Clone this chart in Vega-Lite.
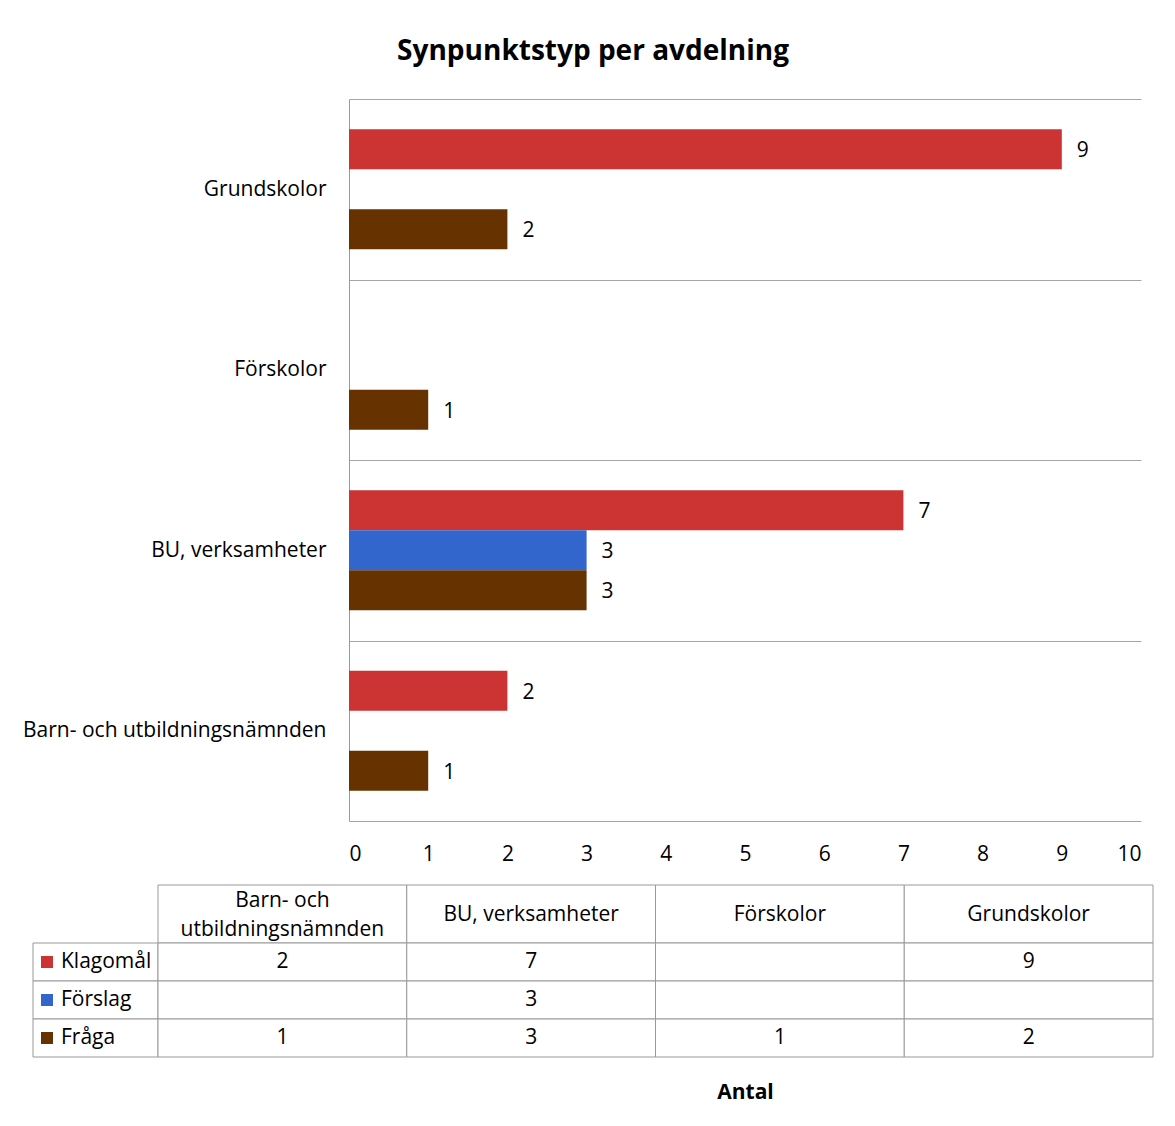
{
  "$schema": "https://vega.github.io/schema/vega-lite/v6.json",
  "padding": {"left": 22, "top": 38, "right": 20, "bottom": 20},
  "config": {"view": {"stroke": null}, "font": "Open Sans", "text": {"font": "Open Sans"}},
  "title": {"text": "Synpunktstyp per avdelning", "fontSize": 28, "fontWeight": "bold", "font": "Open Sans", "color": "#000", "anchor": "middle", "offset": 22, "dx": 5},
  "datasets": {
    "t": [
      {"avd": "Barn- och utbildningsnämnden", "typ": "Klagomål", "antal": 2},
      {"avd": "Barn- och utbildningsnämnden", "typ": "Förslag", "antal": null},
      {"avd": "Barn- och utbildningsnämnden", "typ": "Fråga", "antal": 1},
      {"avd": "BU, verksamheter", "typ": "Klagomål", "antal": 7},
      {"avd": "BU, verksamheter", "typ": "Förslag", "antal": 3},
      {"avd": "BU, verksamheter", "typ": "Fråga", "antal": 3},
      {"avd": "Förskolor", "typ": "Klagomål", "antal": null},
      {"avd": "Förskolor", "typ": "Förslag", "antal": null},
      {"avd": "Förskolor", "typ": "Fråga", "antal": 1},
      {"avd": "Grundskolor", "typ": "Klagomål", "antal": 9},
      {"avd": "Grundskolor", "typ": "Förslag", "antal": null},
      {"avd": "Grundskolor", "typ": "Fråga", "antal": 2}
    ]
  },
  "spacing": 20,
  "vconcat": [
    {
      "spacing": 0,
      "bounds": "flush",
      "hconcat": [
        {
          "width": 316, "height": 722,
          "data": {"values": [{}]},
          "mark": {"type": "text"},
          "encoding": {"text": {"value": ""}}
        },
        {
          "width": 792,
          "height": 722,
          "data": {"name": "t"},
          "encoding": {
            "y": {
              "field": "avd", "type": "nominal",
              "sort": ["Grundskolor", "Förskolor", "BU, verksamheter", "Barn- och utbildningsnämnden"],
              "scale": {"paddingInner": 0, "paddingOuter": 0},
              "axis": {"title": null, "grid": true, "tickBand": "extent", "ticks": false, "domain": true, "domainColor": "#999", "gridColor": "#a6a6a6", "gridOpacity": 1, "labelFontSize": 21, "labelPadding": 23, "labelColor": "#000", "labelLimit": 400}
            },
            "yOffset": {
              "field": "typ", "type": "nominal",
              "scale": {"domain": ["Klagomål", "Förslag", "Fråga"], "paddingInner": 0, "paddingOuter": 0.756}
            },
            "x": {
              "field": "antal", "type": "quantitative",
              "scale": {"domain": [0, 10]},
              "axis": {"title": null, "grid": false, "domain": false, "ticks": false, "values": [0,1,2,3,4,5,6,7,8,9,10], "labelFontSize": 21, "labelPadding": 22, "labelColor": "#000"}
            }
          },
          "layer": [
            {
              "mark": {"type": "bar"},
              "encoding": {
                "color": {"field": "typ", "type": "nominal", "scale": {"domain": ["Klagomål", "Förslag", "Fråga"], "range": ["#CC3333", "#3366CC", "#663300"]}, "legend": null}
              }
            },
            {
              "mark": {"type": "text", "align": "left", "dx": 15, "dy": 2, "fontSize": 21, "color": "#000"},
              "encoding": {"text": {"field": "antal", "type": "quantitative"}}
            }
          ]
        }
      ]
    },
    {
      "columns": 2,
      "spacing": 0,
      "bounds": "flush",
      "concat": [
        {
          "width": 125, "height": 58,
          "data": {"values": [{}]},
          "mark": {"type": "text"},
          "encoding": {"text": {"value": ""}}
        },
        {
          "width": 995, "height": 58,
          "data": {"name": "t"},
          "transform": [{"filter": "datum.typ === 'Klagomål'"}],
          "encoding": {
            "x": {"field": "avd", "type": "nominal", "sort": ["Barn- och utbildningsnämnden", "BU, verksamheter", "Förskolor", "Grundskolor"], "scale": {"paddingInner": 0, "paddingOuter": 0}, "axis": null}
          },
          "layer": [
            {"mark": {"type": "rect", "fill": "#fff", "stroke": "#999", "strokeWidth": 1}},
            {"mark": {"type": "text", "fontSize": 21, "color": "#000", "lineBreak": "\n", "lineHeight": 29, "text": {"expr": "replace(datum.avd, 'och ', 'och\\n')"}, "dy": {"expr": "indexof(datum.avd, 'och ') >= 0 ? -13.5 : 1"}}}
          ]
        },
        {
          "width": 125, "height": 114,
          "data": {"name": "t"},
          "transform": [{"filter": "datum.avd === 'Grundskolor'"}],
          "encoding": {
            "y": {"field": "typ", "type": "nominal", "sort": ["Klagomål", "Förslag", "Fråga"], "scale": {"paddingInner": 0, "paddingOuter": 0}, "axis": null}
          },
          "layer": [
            {"mark": {"type": "rect", "fill": "#fff", "stroke": "#999", "strokeWidth": 1}},
            {
              "mark": {"type": "point", "shape": "square", "filled": true, "size": 144, "opacity": 1},
              "encoding": {
                "x": {"datum": 0.112, "type": "quantitative", "scale": {"domain": [0, 1]}, "axis": null},
                "color": {"field": "typ", "type": "nominal", "scale": {"domain": ["Klagomål", "Förslag", "Fråga"], "range": ["#CC3333", "#3366CC", "#663300"]}, "legend": null}
              }
            },
            {
              "mark": {"type": "text", "align": "left", "fontSize": 21, "color": "#000"},
              "encoding": {
                "x": {"datum": 0.224, "type": "quantitative", "scale": {"domain": [0, 1]}, "axis": null},
                "text": {"field": "typ"}
              }
            }
          ]
        },
        {
          "width": 995, "height": 114,
          "data": {"name": "t"},
          "encoding": {
            "x": {"field": "avd", "type": "nominal", "sort": ["Barn- och utbildningsnämnden", "BU, verksamheter", "Förskolor", "Grundskolor"], "scale": {"paddingInner": 0, "paddingOuter": 0},
                  "axis": {"title": "Antal", "labels": false, "ticks": false, "domain": false, "titleFontSize": 21, "titleFontWeight": "bold", "titleColor": "#000", "titlePadding": 24, "titleX": 587}},
            "y": {"field": "typ", "type": "nominal", "sort": ["Klagomål", "Förslag", "Fråga"], "scale": {"paddingInner": 0, "paddingOuter": 0}, "axis": null}
          },
          "layer": [
            {"mark": {"type": "rect", "fill": "#fff", "stroke": "#999", "strokeWidth": 1}},
            {"transform": [{"filter": "isValid(datum.antal)"}], "mark": {"type": "text", "fontSize": 21, "color": "#000"}, "encoding": {"text": {"field": "antal", "type": "quantitative"}}}
          ]
        }
      ]
    }
  ]
}
